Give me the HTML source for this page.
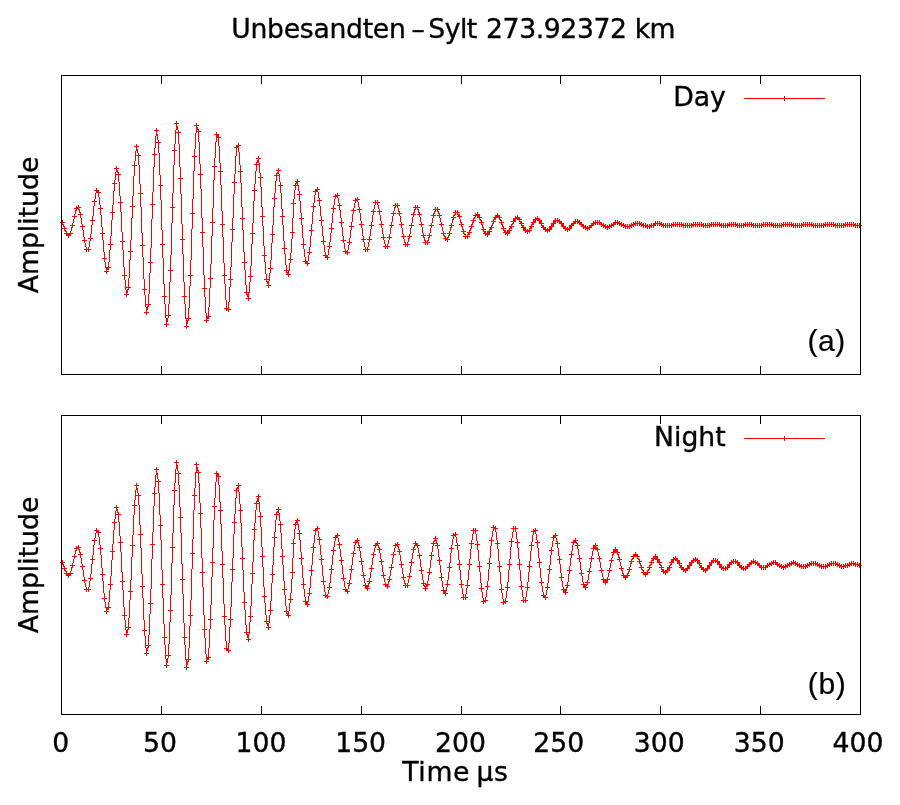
<!DOCTYPE html>
<html lang="en">
<head>
<meta charset="utf-8">
<title>Unbesandten-Sylt 273.92372 km</title>
<style>
html,body{margin:0;padding:0;background:#fff;}
body{width:900px;height:805px;overflow:hidden;}
svg{display:block;will-change:transform;}
text{font-family:'DejaVu Sans','Liberation Sans',sans-serif;font-size:26.67px;fill:#000;stroke:#000;stroke-width:0.35px;}
.ab{font-family:'Liberation Sans','DejaVu Sans',sans-serif;font-size:30px;stroke-width:0.2px;}
.crisp{shape-rendering:crispEdges;}
</style>
</head>
<body>
<svg width="900" height="805" viewBox="0 0 900 805">
<rect width="900" height="805" fill="#fff"/>
<g class="crisp" fill="#f00">
<rect x="744" y="98" width="81" height="1"/><rect x="784" y="96" width="1" height="5"/>
<rect x="744" y="438" width="81" height="1"/><rect x="784" y="436" width="1" height="5"/>
</g>
<path class="crisp" fill="none" stroke="#f00" stroke-width="1" d="M60.5 222v1M61.5 222v1M62.5 220v5M62.5 228v1M63.5 222v1M63.5 224v3M63.5 228v1M64.5 222v1M64.5 226v5M64.5 233v1M65.5 228v1M65.5 230v2M65.5 233v1M66.5 228v1M66.5 231v5M67.5 233v3M68.5 233v5M69.5 233v3M70.5 225v1M70.5 231v5M71.5 225v1M71.5 227v4M71.5 233v1M72.5 216v1M72.5 223v5M72.5 233v1M73.5 216v1M73.5 219v4M73.5 225v1M74.5 208v1M74.5 214v5M74.5 225v1M75.5 208v1M75.5 210v4M75.5 216v1M76.5 206v5M76.5 216v1M77.5 207v2M78.5 205v5M78.5 214v1M79.5 207v1M79.5 209v4M79.5 214v1M80.5 207v1M80.5 212v6M80.5 226v1M81.5 214v1M81.5 218v6M81.5 226v1M82.5 214v1M82.5 224v6M82.5 240v1M83.5 226v1M83.5 230v7M83.5 240v1M84.5 226v1M84.5 237v6M84.5 249v1M85.5 240v1M85.5 243v4M85.5 249v1M86.5 240v1M86.5 247v5M87.5 249v1M88.5 238v1M88.5 247v5M89.5 238v1M89.5 241v6M89.5 249v1M90.5 220v1M90.5 234v7M90.5 249v1M91.5 220v1M91.5 225v9M91.5 238v1M92.5 201v1M92.5 216v9M92.5 238v1M93.5 201v1M93.5 206v10M93.5 220v1M94.5 190v1M94.5 199v7M94.5 220v1M95.5 190v1M95.5 193v6M95.5 201v1M96.5 188v5M96.5 201v1M97.5 190v3M98.5 190v7M98.5 208v1M99.5 192v1M99.5 197v8M99.5 208v1M100.5 192v1M100.5 205v10M100.5 233v1M101.5 208v1M101.5 215v12M101.5 233v1M102.5 208v1M102.5 227v13M102.5 258v1M103.5 233v1M103.5 240v12M103.5 258v1M104.5 233v1M104.5 252v10M104.5 271v1M105.5 258v1M105.5 262v6M105.5 271v1M106.5 258v1M106.5 267v7M107.5 267v3M107.5 271v1M108.5 244v1M108.5 262v8M108.5 271v1M109.5 244v1M109.5 250v12M109.5 267v1M110.5 212v1M110.5 236v14M110.5 267v1M111.5 212v1M111.5 220v16M111.5 244v1M112.5 183v1M112.5 205v15M112.5 244v1M113.5 183v1M113.5 191v14M113.5 212v1M114.5 168v1M114.5 180v11M114.5 212v1M115.5 168v1M115.5 172v8M115.5 183v1M116.5 166v6M116.5 174v1M116.5 183v1M117.5 168v1M117.5 170v3M117.5 174v1M118.5 168v1M118.5 172v10M118.5 202v1M119.5 174v1M119.5 182v14M119.5 202v1M120.5 174v1M120.5 196v16M120.5 241v1M121.5 202v1M121.5 212v20M121.5 241v1M122.5 202v1M122.5 232v18M122.5 275v1M123.5 241v1M123.5 250v17M123.5 275v1M124.5 241v1M124.5 267v13M124.5 294v1M125.5 275v1M125.5 280v10M125.5 294v1M126.5 275v1M126.5 287v1M126.5 290v7M127.5 287v1M127.5 289v4M127.5 294v1M128.5 251v1M128.5 278v12M128.5 294v1M129.5 251v1M129.5 260v18M129.5 287v1M130.5 206v1M130.5 240v20M130.5 287v1M131.5 206v1M131.5 218v22M131.5 251v1M132.5 165v1M132.5 196v22M132.5 251v1M133.5 165v1M133.5 176v20M133.5 206v1M134.5 146v1M134.5 161v15M134.5 206v1M135.5 146v1M135.5 151v10M135.5 165v1M136.5 144v7M136.5 155v1M136.5 165v1M137.5 146v1M137.5 149v4M137.5 155v1M138.5 146v1M138.5 153v12M138.5 193v1M139.5 155v1M139.5 165v19M139.5 193v1M140.5 155v1M140.5 184v23M140.5 245v1M141.5 193v1M141.5 207v26M141.5 245v1M142.5 193v1M142.5 233v24M142.5 289v1M143.5 245v1M143.5 257v22M143.5 289v1M144.5 245v1M144.5 279v16M144.5 312v1M145.5 289v1M145.5 295v12M145.5 312v1M146.5 289v1M146.5 304v1M146.5 307v8M147.5 304v1M147.5 306v4M147.5 312v1M148.5 262v1M148.5 294v13M148.5 312v1M149.5 262v1M149.5 273v21M149.5 304v1M150.5 204v1M150.5 248v25M150.5 304v1M151.5 204v1M151.5 219v29M151.5 262v1M152.5 154v1M152.5 192v27M152.5 262v1M153.5 154v1M153.5 167v25M153.5 204v1M154.5 130v1M154.5 148v19M154.5 204v1M155.5 130v1M155.5 136v12M155.5 154v1M156.5 128v8M156.5 142v1M156.5 154v1M157.5 130v1M157.5 134v6M157.5 142v1M158.5 130v1M158.5 140v13M158.5 185v1M159.5 142v1M159.5 153v22M159.5 185v1M160.5 142v1M160.5 175v25M160.5 244v1M161.5 185v1M161.5 200v30M161.5 244v1M162.5 185v1M162.5 230v28M162.5 296v1M163.5 244v1M163.5 258v26M163.5 296v1M164.5 244v1M164.5 284v20M164.5 324v1M165.5 296v1M165.5 304v14M165.5 324v1M166.5 296v1M166.5 315v1M166.5 318v9M167.5 315v1M167.5 318v4M167.5 324v1M168.5 270v1M168.5 304v14M168.5 324v1M169.5 270v1M169.5 282v22M169.5 315v1M170.5 207v1M170.5 255v27M170.5 315v1M171.5 207v1M171.5 223v32M171.5 270v1M172.5 150v1M172.5 193v30M172.5 270v1M173.5 150v1M173.5 165v28M173.5 207v1M174.5 123v1M174.5 144v21M174.5 207v1M175.5 123v1M175.5 130v14M175.5 150v1M176.5 121v9M176.5 132v1M176.5 150v1M177.5 123v1M177.5 126v4M177.5 132v1M178.5 123v1M178.5 130v14M178.5 178v1M179.5 132v1M179.5 144v23M179.5 178v1M180.5 132v1M180.5 167v27M180.5 239v1M181.5 178v1M181.5 194v30M181.5 239v1M182.5 178v1M182.5 224v30M182.5 296v1M183.5 239v1M183.5 254v28M183.5 296v1M184.5 239v1M184.5 282v22M184.5 326v1M185.5 296v1M185.5 304v15M185.5 326v1M186.5 296v1M186.5 318v11M187.5 318v1M187.5 320v4M187.5 326v1M188.5 275v1M188.5 308v13M188.5 326v1M189.5 275v1M189.5 286v22M189.5 318v1M190.5 213v1M190.5 260v26M190.5 318v1M191.5 213v1M191.5 229v31M191.5 275v1M192.5 156v1M192.5 199v30M192.5 275v1M193.5 156v1M193.5 171v28M193.5 213v1M194.5 125v1M194.5 149v22M194.5 213v1M195.5 125v1M195.5 133v16M195.5 156v1M196.5 123v10M196.5 156v1M197.5 125v1M197.5 127v3M197.5 131v1M198.5 125v1M198.5 129v13M198.5 174v1M199.5 131v1M199.5 142v22M199.5 174v1M200.5 131v1M200.5 164v25M200.5 232v1M201.5 174v1M201.5 189v29M201.5 232v1M202.5 174v1M202.5 218v29M202.5 288v1M203.5 232v1M203.5 247v28M203.5 288v1M204.5 232v1M204.5 275v22M204.5 320v1M205.5 288v1M205.5 297v16M205.5 320v1M206.5 288v1M206.5 313v10M207.5 316v3M207.5 320v1M208.5 278v1M208.5 307v12M208.5 320v1M209.5 278v1M209.5 288v19M209.5 316v1M210.5 222v1M210.5 264v24M210.5 316v1M211.5 222v1M211.5 236v28M211.5 278v1M212.5 166v1M212.5 208v28M212.5 278v1M213.5 166v1M213.5 180v28M213.5 222v1M214.5 134v1M214.5 158v22M214.5 222v1M215.5 134v1M215.5 142v16M215.5 166v1M216.5 132v10M216.5 166v1M217.5 134v4M218.5 134v12M218.5 171v1M219.5 137v1M219.5 146v17M219.5 171v1M220.5 137v1M220.5 163v22M220.5 224v1M221.5 171v1M221.5 185v26M221.5 224v1M222.5 171v1M222.5 211v26M222.5 275v1M223.5 224v1M223.5 237v26M223.5 275v1M224.5 224v1M224.5 263v21M224.5 308v1M225.5 275v1M225.5 284v16M225.5 308v1M226.5 275v1M226.5 300v11M227.5 308v2M228.5 279v1M228.5 302v10M229.5 279v1M229.5 287v15M229.5 309v1M230.5 229v1M230.5 267v20M230.5 309v1M231.5 229v1M231.5 242v25M231.5 279v1M232.5 182v1M232.5 218v24M232.5 279v1M233.5 182v1M233.5 194v24M233.5 229v1M234.5 147v1M234.5 174v20M234.5 229v1M235.5 147v1M235.5 156v18M235.5 182v1M236.5 145v11M236.5 182v1M237.5 145v3M238.5 143v9M238.5 171v1M239.5 145v1M239.5 152v13M239.5 171v1M240.5 145v1M240.5 165v18M240.5 218v1M241.5 171v1M241.5 183v24M241.5 218v1M242.5 171v1M242.5 207v23M242.5 262v1M243.5 218v1M243.5 230v22M243.5 262v1M244.5 218v1M244.5 252v18M244.5 292v1M245.5 262v1M245.5 270v15M245.5 292v1M246.5 262v1M246.5 285v10M246.5 298v1M247.5 292v1M247.5 294v3M247.5 298v1M248.5 276v1M248.5 292v9M249.5 276v1M249.5 282v11M249.5 298v1M250.5 233v1M250.5 266v16M250.5 298v1M251.5 233v1M251.5 244v22M251.5 276v1M252.5 190v1M252.5 223v21M252.5 276v1M253.5 190v1M253.5 201v22M253.5 233v1M254.5 164v1M254.5 184v17M254.5 233v1M255.5 164v1M255.5 171v13M255.5 190v1M256.5 158v1M256.5 162v9M256.5 190v1M257.5 158v1M257.5 160v3M257.5 164v1M258.5 156v7M258.5 164v1M258.5 177v1M259.5 158v1M259.5 163v10M259.5 177v1M260.5 158v1M260.5 173v14M260.5 216v1M261.5 177v1M261.5 187v20M261.5 216v1M262.5 177v1M262.5 207v19M262.5 255v1M263.5 216v1M263.5 226v20M263.5 255v1M264.5 216v1M264.5 246v16M264.5 279v1M265.5 255v1M265.5 262v12M265.5 279v1M266.5 255v1M266.5 274v8M266.5 285v1M267.5 279v1M267.5 281v3M267.5 285v1M268.5 268v1M268.5 279v1M268.5 281v7M269.5 268v1M269.5 273v8M269.5 285v1M270.5 234v1M270.5 260v13M270.5 285v1M271.5 234v1M271.5 243v17M271.5 268v1M272.5 198v1M272.5 225v18M272.5 268v1M273.5 198v1M273.5 207v18M273.5 234v1M274.5 175v1M274.5 193v14M274.5 234v1M275.5 175v1M275.5 181v12M275.5 198v1M276.5 170v1M276.5 173v8M276.5 198v1M277.5 170v1M277.5 172v2M277.5 175v1M278.5 168v6M278.5 175v1M278.5 185v1M279.5 170v1M279.5 174v8M279.5 185v1M280.5 170v1M280.5 182v11M280.5 216v1M281.5 185v1M281.5 193v16M281.5 216v1M282.5 185v1M282.5 209v16M282.5 248v1M283.5 216v1M283.5 225v16M283.5 248v1M284.5 216v1M284.5 241v13M284.5 270v1M285.5 248v1M285.5 254v11M285.5 270v1M286.5 248v1M286.5 265v8M286.5 274v1M287.5 270v1M287.5 272v3M288.5 259v1M288.5 270v7M289.5 259v1M289.5 263v8M289.5 274v1M290.5 232v1M290.5 253v10M290.5 274v1M291.5 203v1M291.5 232v1M291.5 239v14M291.5 259v1M292.5 203v1M292.5 218v21M292.5 259v1M293.5 185v1M293.5 199v19M293.5 232v1M294.5 185v1M294.5 190v9M294.5 203v1M294.5 232v1M295.5 181v1M295.5 183v7M295.5 203v1M296.5 181v3M296.5 185v1M297.5 179v7M297.5 194v1M298.5 181v1M298.5 185v6M298.5 194v1M299.5 181v1M299.5 191v10M299.5 218v1M300.5 194v1M300.5 201v12M300.5 218v1M301.5 194v1M301.5 213v12M301.5 244v1M302.5 218v1M302.5 225v13M302.5 244v1M303.5 218v1M303.5 238v11M303.5 261v1M304.5 244v1M304.5 249v8M304.5 261v1M305.5 244v1M305.5 257v7M306.5 261v3M307.5 252v1M307.5 261v5M308.5 252v1M308.5 255v6M308.5 263v1M309.5 230v1M309.5 247v8M309.5 263v1M310.5 230v1M310.5 236v11M310.5 252v1M311.5 206v1M311.5 224v12M311.5 252v1M312.5 206v1M312.5 212v12M312.5 230v1M313.5 191v1M313.5 203v9M313.5 230v1M314.5 191v1M314.5 195v8M314.5 206v1M315.5 189v6M315.5 206v1M316.5 189v3M317.5 187v5M317.5 200v1M318.5 189v1M318.5 192v6M318.5 200v1M319.5 189v1M319.5 198v8M319.5 220v1M320.5 200v1M320.5 206v10M320.5 220v1M321.5 200v1M321.5 216v10M321.5 241v1M322.5 220v1M322.5 226v10M322.5 241v1M323.5 220v1M323.5 236v9M323.5 255v1M324.5 241v1M324.5 245v7M324.5 255v1M325.5 241v1M325.5 252v6M326.5 255v3M327.5 246v1M327.5 255v5M328.5 246v1M328.5 249v6M328.5 257v1M329.5 228v1M329.5 242v7M329.5 257v1M330.5 228v1M330.5 233v9M330.5 246v1M331.5 208v1M331.5 223v10M331.5 246v1M332.5 208v1M332.5 213v10M332.5 228v1M333.5 196v1M333.5 205v8M333.5 228v1M334.5 196v1M334.5 199v6M334.5 208v1M335.5 194v5M335.5 208v1M336.5 195v2M337.5 193v5M337.5 205v1M338.5 195v1M338.5 198v5M338.5 205v1M339.5 195v1M339.5 203v7M339.5 222v1M340.5 205v1M340.5 210v8M340.5 222v1M341.5 205v1M341.5 218v9M341.5 240v1M342.5 222v1M342.5 227v9M342.5 240v1M343.5 222v1M343.5 236v7M343.5 251v1M344.5 240v1M344.5 243v6M344.5 251v1M345.5 240v1M345.5 249v5M346.5 251v2M347.5 242v1M347.5 250v5M348.5 242v1M348.5 245v5M348.5 252v1M349.5 226v1M349.5 238v7M349.5 252v1M350.5 226v1M350.5 230v8M350.5 242v1M351.5 210v1M351.5 222v8M351.5 242v1M352.5 210v1M352.5 214v8M352.5 226v1M353.5 200v1M353.5 208v6M353.5 226v1M354.5 200v1M354.5 203v5M354.5 210v1M355.5 198v5M355.5 210v1M356.5 199v2M357.5 197v5M357.5 209v1M358.5 199v1M358.5 202v5M358.5 209v1M359.5 199v1M359.5 207v6M359.5 224v1M360.5 209v1M360.5 213v8M360.5 224v1M361.5 209v1M361.5 221v7M361.5 239v1M362.5 224v1M362.5 228v8M362.5 239v1M363.5 224v1M363.5 236v6M363.5 249v1M364.5 239v1M364.5 242v5M364.5 249v1M365.5 239v1M365.5 247v5M366.5 249v1M367.5 239v1M367.5 247v5M368.5 239v1M368.5 242v5M368.5 249v1M369.5 225v1M369.5 236v6M369.5 249v1M370.5 225v1M370.5 229v7M370.5 239v1M371.5 211v1M371.5 222v7M371.5 239v1M372.5 211v1M372.5 215v7M372.5 225v1M373.5 202v1M373.5 209v6M373.5 225v1M374.5 202v1M374.5 205v4M374.5 211v1M375.5 200v5M375.5 211v1M376.5 202v1M377.5 200v5M377.5 211v1M378.5 202v1M378.5 205v4M378.5 211v1M379.5 202v1M379.5 209v6M379.5 224v1M380.5 211v1M380.5 215v6M380.5 224v1M381.5 211v1M381.5 221v7M381.5 237v1M382.5 224v1M382.5 228v6M382.5 237v1M383.5 224v1M383.5 234v6M383.5 246v1M384.5 237v1M384.5 240v4M384.5 246v1M385.5 237v1M385.5 244v5M386.5 246v1M387.5 237v1M387.5 244v5M388.5 237v1M388.5 240v4M388.5 246v1M389.5 225v1M389.5 234v6M389.5 246v1M390.5 225v1M390.5 228v6M390.5 237v1M391.5 213v1M391.5 222v6M391.5 237v1M392.5 213v1M392.5 216v6M392.5 225v1M393.5 205v1M393.5 211v5M393.5 225v1M394.5 205v1M394.5 207v4M394.5 213v1M395.5 203v5M395.5 213v1M396.5 205v1M397.5 203v5M397.5 213v1M398.5 205v1M398.5 208v4M398.5 213v1M399.5 205v1M399.5 211v5M399.5 224v1M400.5 213v1M400.5 216v6M400.5 224v1M401.5 213v1M401.5 222v6M401.5 236v1M402.5 224v1M402.5 228v6M402.5 236v1M403.5 224v1M403.5 234v5M403.5 244v1M404.5 236v1M404.5 239v4M404.5 244v1M405.5 236v1M405.5 242v5M406.5 244v1M407.5 236v1M407.5 242v5M408.5 236v1M408.5 238v4M408.5 244v1M409.5 225v1M409.5 234v5M409.5 244v1M410.5 225v1M410.5 228v6M410.5 236v1M411.5 214v1M411.5 223v5M411.5 236v1M412.5 214v1M412.5 217v6M412.5 225v1M413.5 207v1M413.5 212v5M413.5 225v1M414.5 207v1M414.5 209v4M414.5 214v1M415.5 205v5M415.5 214v1M416.5 207v1M417.5 205v5M417.5 214v1M418.5 207v1M418.5 209v4M418.5 214v1M419.5 207v1M419.5 212v5M419.5 224v1M420.5 214v1M420.5 217v5M420.5 224v1M421.5 214v1M421.5 222v5M421.5 235v1M422.5 224v1M422.5 227v6M422.5 235v1M423.5 224v1M423.5 233v5M423.5 242v1M424.5 235v1M424.5 237v4M424.5 242v1M425.5 235v1M425.5 240v5M426.5 242v1M427.5 235v1M427.5 240v5M428.5 235v1M428.5 237v4M428.5 242v1M429.5 225v1M429.5 233v5M429.5 242v1M430.5 225v1M430.5 228v5M430.5 235v1M431.5 215v1M431.5 223v5M431.5 235v1M432.5 215v1M432.5 218v5M432.5 225v1M433.5 209v1M433.5 213v5M433.5 225v1M434.5 209v1M434.5 211v3M434.5 215v1M435.5 207v5M435.5 215v1M436.5 209v1M437.5 207v5M437.5 215v1M438.5 209v1M438.5 211v3M438.5 215v1M439.5 209v1M439.5 213v5M439.5 224v1M440.5 215v1M440.5 218v4M440.5 224v1M441.5 215v1M441.5 222v5M441.5 233v1M442.5 224v1M442.5 227v4M442.5 233v1M443.5 224v1M443.5 231v5M443.5 238v1M444.5 233v1M444.5 235v2M444.5 238v1M445.5 233v1M445.5 236v5M446.5 238v2M447.5 233v1M447.5 237v5M448.5 233v1M448.5 235v3M448.5 239v1M449.5 225v1M449.5 231v5M449.5 239v1M450.5 225v1M450.5 227v4M450.5 233v1M451.5 217v1M451.5 223v5M451.5 233v1M452.5 217v1M452.5 219v4M452.5 225v1M453.5 212v1M453.5 215v5M453.5 225v1M454.5 212v1M454.5 214v2M454.5 217v1M455.5 210v5M455.5 217v1M456.5 212v1M457.5 210v5M457.5 216v1M458.5 212v1M458.5 214v3M459.5 212v1M459.5 214v5M459.5 224v1M460.5 216v1M460.5 219v4M460.5 224v1M461.5 216v1M461.5 222v5M461.5 231v1M462.5 224v1M462.5 226v4M462.5 231v1M463.5 224v1M463.5 229v5M463.5 236v1M464.5 231v1M464.5 233v2M464.5 236v1M465.5 231v1M465.5 234v5M466.5 236v1M467.5 232v1M467.5 234v5M468.5 232v3M468.5 236v1M469.5 226v1M469.5 230v5M469.5 236v1M470.5 226v1M470.5 228v3M470.5 232v1M471.5 220v1M471.5 224v5M471.5 232v1M472.5 220v1M472.5 222v3M472.5 226v1M473.5 215v1M473.5 218v5M473.5 226v1M474.5 215v1M474.5 217v2M474.5 220v1M475.5 213v5M475.5 220v1M476.5 214v2M477.5 212v6M478.5 214v4M479.5 214v6M479.5 222v1M480.5 217v1M480.5 219v2M480.5 222v1M481.5 217v1M481.5 220v5M481.5 229v1M482.5 222v1M482.5 224v4M482.5 229v1M483.5 222v1M483.5 227v5M483.5 233v1M484.5 229v1M484.5 231v3M485.5 229v1M485.5 231v5M486.5 233v2M487.5 231v6M488.5 231v4M489.5 227v1M489.5 229v6M490.5 227v3M490.5 231v1M491.5 221v1M491.5 225v5M491.5 231v1M492.5 221v1M492.5 223v3M492.5 227v1M493.5 217v1M493.5 219v5M493.5 227v1M494.5 217v3M494.5 221v1M495.5 215v5M495.5 221v1M496.5 215v3M497.5 213v5M498.5 215v3M499.5 215v5M499.5 222v1M500.5 217v1M500.5 219v2M500.5 222v1M501.5 217v1M501.5 220v5M501.5 228v1M502.5 222v1M502.5 224v3M502.5 228v1M503.5 222v1M503.5 226v5M503.5 232v1M504.5 228v1M504.5 230v3M505.5 228v1M505.5 230v5M506.5 232v2M507.5 230v6M508.5 230v4M509.5 226v1M509.5 228v6M510.5 226v3M510.5 230v1M511.5 221v1M511.5 224v5M511.5 230v1M512.5 221v1M512.5 223v2M512.5 226v1M513.5 218v6M513.5 226v1M514.5 218v4M515.5 216v6M516.5 217v2M517.5 215v5M518.5 217v3M519.5 217v5M519.5 223v1M520.5 219v1M520.5 221v3M521.5 219v1M521.5 221v5M521.5 227v1M522.5 223v1M522.5 225v3M523.5 223v1M523.5 225v6M524.5 227v4M525.5 227v6M526.5 230v2M527.5 229v5M528.5 230v2M529.5 226v1M529.5 228v5M530.5 226v3M530.5 230v1M531.5 222v1M531.5 224v5M531.5 230v1M532.5 222v3M532.5 226v1M533.5 219v6M533.5 226v1M534.5 219v4M535.5 217v6M536.5 218v2M537.5 216v5M538.5 218v3M539.5 218v6M540.5 220v4M541.5 220v6M541.5 227v1M542.5 223v1M542.5 225v3M543.5 223v1M543.5 225v5M544.5 227v3M545.5 227v5M546.5 229v2M547.5 228v5M548.5 229v2M549.5 226v6M550.5 226v4M551.5 223v7M552.5 223v4M553.5 220v7M554.5 220v4M555.5 218v6M556.5 220v1M557.5 218v5M558.5 220v2M559.5 219v5M560.5 221v3M561.5 221v6M562.5 223v4M563.5 223v6M564.5 226v3M565.5 226v5M566.5 228v2M567.5 227v5M568.5 228v2M569.5 225v6M570.5 225v4M571.5 223v6M572.5 223v3M573.5 221v5M574.5 221v3M575.5 219v5M576.5 221v1M577.5 219v5M578.5 221v2M579.5 220v5M580.5 222v3M581.5 222v5M582.5 224v3M583.5 224v5M584.5 226v2M585.5 225v5M586.5 227v2M587.5 226v5M588.5 227v2M589.5 225v5M590.5 225v3M591.5 223v5M592.5 223v3M593.5 221v5M594.5 222v2M595.5 220v5M596.5 222v1M597.5 220v5M598.5 222v1M599.5 220v5M600.5 222v3M601.5 222v5M602.5 224v2M603.5 223v5M604.5 225v2M605.5 224v5M606.5 226v2M607.5 225v5M608.5 226v2M609.5 224v5M610.5 225v2M611.5 223v5M612.5 224v2M613.5 222v5M614.5 222v3M615.5 220v5M616.5 222v1M617.5 220v5M618.5 222v2M619.5 221v5M620.5 223v2M621.5 222v5M622.5 224v2M623.5 223v5M624.5 225v2M625.5 224v5M626.5 226v1M627.5 224v5M628.5 226v1M629.5 224v5M630.5 225v2M631.5 223v5M632.5 224v2M633.5 222v5M634.5 223v2M635.5 221v5M636.5 223v1M637.5 221v5M638.5 223v1M639.5 221v5M640.5 223v2M641.5 222v5M642.5 224v2M643.5 223v5M644.5 225v1M645.5 223v5M646.5 225v2M647.5 224v5M648.5 226v1M649.5 224v5M650.5 225v2M651.5 223v5M652.5 225v1M653.5 223v5M654.5 223v3M655.5 221v5M656.5 223v1M657.5 221v5M658.5 223v1M659.5 221v5M660.5 223v2M661.5 222v5M662.5 224v2M663.5 223v5M664.5 225v1M665.5 223v5M666.5 225v1M667.5 223v5M668.5 225v1M669.5 223v5M670.5 225v1M671.5 223v5M672.5 224v2M673.5 222v5M674.5 224v1M675.5 222v5M676.5 224v1M677.5 222v5M678.5 224v1M679.5 222v5M680.5 224v1M681.5 222v5M682.5 224v2M683.5 223v5M684.5 225v1M685.5 223v5M686.5 225v1M687.5 223v5M688.5 225v1M689.5 223v5M690.5 225v1M691.5 223v5M692.5 224v2M693.5 222v5M694.5 224v1M695.5 222v5M696.5 224v1M697.5 222v5M698.5 224v1M699.5 222v5M700.5 224v1M701.5 222v5M702.5 224v2M703.5 223v5M704.5 225v1M705.5 223v5M706.5 225v1M707.5 223v5M708.5 225v1M709.5 223v5M710.5 224v2M711.5 222v5M712.5 224v1M713.5 222v5M714.5 224v1M715.5 222v5M716.5 224v1M717.5 222v5M718.5 224v1M719.5 222v5M720.5 224v2M721.5 223v5M722.5 225v1M723.5 223v5M724.5 225v1M725.5 223v5M726.5 225v1M727.5 223v5M728.5 224v2M729.5 222v5M730.5 224v1M731.5 222v5M732.5 224v1M733.5 222v5M734.5 224v1M735.5 222v5M736.5 224v2M737.5 223v5M738.5 225v1M739.5 223v5M740.5 225v1M741.5 223v5M742.5 225v1M743.5 223v5M744.5 224v2M745.5 222v5M746.5 224v1M747.5 222v5M748.5 224v1M749.5 222v5M750.5 224v1M751.5 222v5M752.5 224v2M753.5 223v5M754.5 225v1M755.5 223v5M756.5 225v1M757.5 223v5M758.5 225v1M759.5 223v5M760.5 225v1M761.5 223v5M762.5 224v2M763.5 222v5M764.5 224v1M765.5 222v5M766.5 224v1M767.5 222v5M768.5 224v1M769.5 222v5M770.5 224v1M771.5 222v5M772.5 224v2M773.5 223v5M774.5 225v1M775.5 223v5M776.5 225v1M777.5 223v5M778.5 225v1M779.5 223v5M780.5 225v1M781.5 223v5M782.5 224v2M783.5 222v5M784.5 224v1M785.5 222v5M786.5 224v1M787.5 222v5M788.5 224v1M789.5 222v5M790.5 224v1M791.5 222v5M792.5 224v2M793.5 223v5M794.5 225v1M795.5 223v5M796.5 225v1M797.5 223v5M798.5 225v1M799.5 223v5M800.5 225v1M801.5 223v5M802.5 224v2M803.5 222v5M804.5 224v1M805.5 222v5M806.5 224v1M807.5 222v5M808.5 224v1M809.5 222v5M810.5 224v1M811.5 222v5M812.5 224v2M813.5 223v5M814.5 225v1M815.5 223v5M816.5 225v1M817.5 223v5M818.5 225v1M819.5 223v5M820.5 225v1M821.5 223v5M822.5 225v1M823.5 223v5M824.5 224v2M825.5 222v5M826.5 224v1M827.5 222v5M828.5 224v1M829.5 222v5M830.5 224v1M831.5 222v5M832.5 224v1M833.5 222v5M834.5 224v2M835.5 223v5M836.5 225v1M837.5 223v5M838.5 225v1M839.5 223v5M840.5 225v1M841.5 223v5M842.5 225v1M843.5 223v5M844.5 224v2M845.5 222v5M846.5 224v1M847.5 222v5M848.5 224v1M849.5 222v5M850.5 224v1M851.5 222v5M852.5 224v1M853.5 222v5M854.5 224v2M855.5 223v5M856.5 225v1M857.5 223v5M858.5 225v1M859.5 223v5M860.5 225v1M861.5 225v1"/>
<path class="crisp" fill="none" stroke="#f00" stroke-width="1" d="M60.5 562v1M61.5 562v1M62.5 560v5M62.5 568v1M63.5 562v1M63.5 564v3M63.5 568v1M64.5 562v1M64.5 566v5M64.5 573v1M65.5 568v1M65.5 570v2M65.5 573v1M66.5 568v1M66.5 571v5M67.5 573v3M68.5 573v5M69.5 573v3M70.5 565v1M70.5 571v5M71.5 565v1M71.5 567v4M71.5 573v1M72.5 556v1M72.5 563v5M72.5 573v1M73.5 556v1M73.5 559v4M73.5 565v1M74.5 548v1M74.5 554v5M74.5 565v1M75.5 548v1M75.5 550v4M75.5 556v1M76.5 546v5M76.5 556v1M77.5 547v2M78.5 545v5M78.5 554v1M79.5 547v1M79.5 549v4M79.5 554v1M80.5 547v1M80.5 552v6M80.5 566v1M81.5 554v1M81.5 558v6M81.5 566v1M82.5 554v1M82.5 564v6M82.5 580v1M83.5 566v1M83.5 570v7M83.5 580v1M84.5 566v1M84.5 577v6M84.5 589v1M85.5 580v1M85.5 583v4M85.5 589v1M86.5 580v1M86.5 587v5M87.5 589v1M88.5 578v1M88.5 587v5M89.5 578v1M89.5 581v6M89.5 589v1M90.5 559v1M90.5 574v7M90.5 589v1M91.5 559v1M91.5 564v10M91.5 578v1M92.5 540v1M92.5 555v9M92.5 578v1M93.5 540v1M93.5 545v10M93.5 559v1M94.5 530v1M94.5 538v7M94.5 559v1M95.5 530v1M95.5 533v5M95.5 540v1M96.5 528v5M96.5 540v1M97.5 530v3M98.5 530v7M98.5 548v1M99.5 532v1M99.5 537v8M99.5 548v1M100.5 532v1M100.5 545v10M100.5 574v1M101.5 548v1M101.5 555v13M101.5 574v1M102.5 548v1M102.5 568v13M102.5 598v1M103.5 574v1M103.5 581v12M103.5 598v1M104.5 574v1M104.5 593v9M104.5 611v1M105.5 598v1M105.5 602v6M105.5 611v1M106.5 598v1M106.5 607v7M107.5 607v3M107.5 611v1M108.5 584v1M108.5 602v8M108.5 611v1M109.5 584v1M109.5 590v12M109.5 607v1M110.5 551v1M110.5 576v14M110.5 607v1M111.5 551v1M111.5 560v16M111.5 584v1M112.5 522v1M112.5 544v16M112.5 584v1M113.5 522v1M113.5 530v14M113.5 551v1M114.5 507v1M114.5 519v11M114.5 551v1M115.5 507v1M115.5 511v8M115.5 522v1M116.5 505v6M116.5 514v1M116.5 522v1M117.5 507v1M117.5 509v4M117.5 514v1M118.5 507v1M118.5 512v10M118.5 542v1M119.5 514v1M119.5 522v14M119.5 542v1M120.5 514v1M120.5 536v16M120.5 581v1M121.5 542v1M121.5 552v20M121.5 581v1M122.5 542v1M122.5 572v18M122.5 615v1M123.5 581v1M123.5 590v17M123.5 615v1M124.5 581v1M124.5 607v13M124.5 634v1M125.5 615v1M125.5 620v10M125.5 634v1M126.5 615v1M126.5 627v1M126.5 630v7M127.5 627v1M127.5 629v4M127.5 634v1M128.5 591v1M128.5 618v12M128.5 634v1M129.5 591v1M129.5 600v18M129.5 627v1M130.5 545v1M130.5 580v20M130.5 627v1M131.5 545v1M131.5 557v23M131.5 591v1M132.5 505v1M132.5 535v22M132.5 591v1M133.5 505v1M133.5 515v20M133.5 545v1M134.5 485v1M134.5 500v15M134.5 545v1M135.5 485v1M135.5 490v10M135.5 505v1M136.5 483v7M136.5 495v1M136.5 505v1M137.5 485v1M137.5 488v5M137.5 495v1M138.5 485v1M138.5 493v12M138.5 534v1M139.5 495v1M139.5 505v20M139.5 534v1M140.5 495v1M140.5 525v23M140.5 586v1M141.5 534v1M141.5 548v26M141.5 586v1M142.5 534v1M142.5 574v24M142.5 630v1M143.5 586v1M143.5 598v22M143.5 630v1M144.5 586v1M144.5 620v16M144.5 653v1M145.5 630v1M145.5 636v12M145.5 653v1M146.5 630v1M146.5 645v1M146.5 648v8M147.5 645v1M147.5 647v4M147.5 653v1M148.5 603v1M148.5 635v13M148.5 653v1M149.5 603v1M149.5 614v21M149.5 645v1M150.5 544v1M150.5 589v25M150.5 645v1M151.5 544v1M151.5 559v30M151.5 603v1M152.5 493v1M152.5 532v27M152.5 603v1M153.5 493v1M153.5 506v26M153.5 544v1M154.5 469v1M154.5 487v19M154.5 544v1M155.5 469v1M155.5 475v12M155.5 493v1M156.5 467v8M156.5 481v1M156.5 493v1M157.5 469v1M157.5 473v6M157.5 481v1M158.5 469v1M158.5 479v14M158.5 525v1M159.5 481v1M159.5 493v22M159.5 525v1M160.5 481v1M160.5 515v25M160.5 584v1M161.5 525v1M161.5 540v30M161.5 584v1M162.5 525v1M162.5 570v28M162.5 637v1M163.5 584v1M163.5 598v26M163.5 637v1M164.5 584v1M164.5 624v21M164.5 665v1M165.5 637v1M165.5 645v14M165.5 665v1M166.5 637v1M166.5 655v1M166.5 659v9M167.5 655v1M167.5 658v5M167.5 665v1M168.5 610v1M168.5 644v14M168.5 665v1M169.5 610v1M169.5 622v22M169.5 655v1M170.5 547v1M170.5 595v27M170.5 655v1M171.5 547v1M171.5 563v32M171.5 610v1M172.5 490v1M172.5 533v30M172.5 610v1M173.5 490v1M173.5 505v28M173.5 547v1M174.5 462v1M174.5 483v22M174.5 547v1M175.5 462v1M175.5 469v14M175.5 490v1M176.5 460v9M176.5 473v1M176.5 490v1M177.5 462v1M177.5 465v6M177.5 473v1M178.5 462v1M178.5 471v14M178.5 517v1M179.5 473v1M179.5 485v22M179.5 517v1M180.5 473v1M180.5 507v26M180.5 579v1M181.5 517v1M181.5 533v31M181.5 579v1M182.5 517v1M182.5 564v30M182.5 637v1M183.5 579v1M183.5 594v29M183.5 637v1M184.5 579v1M184.5 623v22M184.5 667v1M185.5 637v1M185.5 645v15M185.5 667v1M186.5 637v1M186.5 659v11M187.5 659v1M187.5 661v4M187.5 667v1M188.5 615v1M188.5 648v14M188.5 667v1M189.5 615v1M189.5 626v22M189.5 659v1M190.5 553v1M190.5 600v26M190.5 659v1M191.5 553v1M191.5 569v31M191.5 615v1M192.5 495v1M192.5 539v30M192.5 615v1M193.5 495v1M193.5 510v29M193.5 553v1M194.5 464v1M194.5 488v22M194.5 553v1M195.5 464v1M195.5 472v16M195.5 495v1M196.5 462v11M196.5 495v1M197.5 464v1M197.5 467v4M197.5 472v1M198.5 464v1M198.5 470v13M198.5 513v1M199.5 472v1M199.5 483v20M199.5 513v1M200.5 472v1M200.5 503v25M200.5 572v1M201.5 513v1M201.5 528v30M201.5 572v1M202.5 513v1M202.5 558v29M202.5 629v1M203.5 572v1M203.5 587v28M203.5 629v1M204.5 572v1M204.5 615v23M204.5 661v1M205.5 629v1M205.5 638v16M205.5 661v1M206.5 629v1M206.5 654v10M207.5 657v3M207.5 661v1M208.5 619v1M208.5 648v12M208.5 661v1M209.5 619v1M209.5 629v19M209.5 657v1M210.5 562v1M210.5 605v24M210.5 657v1M211.5 562v1M211.5 577v28M211.5 619v1M212.5 506v1M212.5 548v29M212.5 619v1M213.5 506v1M213.5 520v28M213.5 562v1M214.5 473v1M214.5 498v22M214.5 562v1M215.5 473v1M215.5 482v16M215.5 506v1M216.5 471v11M216.5 506v1M217.5 473v4M218.5 473v12M218.5 510v1M219.5 476v1M219.5 485v17M219.5 510v1M220.5 476v1M220.5 502v22M220.5 564v1M221.5 510v1M221.5 524v27M221.5 564v1M222.5 510v1M222.5 551v27M222.5 616v1M223.5 564v1M223.5 578v26M223.5 616v1M224.5 564v1M224.5 604v21M224.5 648v1M225.5 616v1M225.5 625v16M225.5 648v1M226.5 616v1M226.5 641v10M227.5 648v3M228.5 619v1M228.5 643v10M229.5 619v1M229.5 627v16M229.5 650v1M230.5 569v1M230.5 607v20M230.5 650v1M231.5 569v1M231.5 582v25M231.5 619v1M232.5 522v1M232.5 558v24M232.5 619v1M233.5 522v1M233.5 534v24M233.5 569v1M234.5 490v1M234.5 514v20M234.5 569v1M235.5 490v1M235.5 498v16M235.5 522v1M236.5 485v1M236.5 488v10M236.5 522v1M237.5 485v1M237.5 487v2M237.5 490v1M238.5 483v9M238.5 510v1M239.5 485v1M239.5 492v12M239.5 510v1M240.5 485v1M240.5 504v19M240.5 558v1M241.5 510v1M241.5 523v24M241.5 558v1M242.5 510v1M242.5 547v23M242.5 602v1M243.5 558v1M243.5 570v22M243.5 602v1M244.5 558v1M244.5 592v18M244.5 632v1M245.5 602v1M245.5 610v15M245.5 632v1M246.5 602v1M246.5 625v10M246.5 639v1M247.5 632v1M247.5 634v4M247.5 639v1M248.5 616v1M248.5 632v1M248.5 634v8M249.5 616v1M249.5 622v12M249.5 639v1M250.5 573v1M250.5 606v16M250.5 639v1M251.5 573v1M251.5 584v22M251.5 616v1M252.5 529v1M252.5 562v22M252.5 616v1M253.5 529v1M253.5 540v22M253.5 573v1M254.5 503v1M254.5 523v17M254.5 573v1M255.5 503v1M255.5 510v13M255.5 529v1M256.5 496v1M256.5 501v9M256.5 529v1M257.5 496v1M257.5 498v4M257.5 503v1M258.5 494v8M258.5 503v1M258.5 516v1M259.5 496v1M259.5 502v10M259.5 516v1M260.5 496v1M260.5 512v15M260.5 556v1M261.5 516v1M261.5 527v20M261.5 556v1M262.5 516v1M262.5 547v20M262.5 596v1M263.5 556v1M263.5 567v20M263.5 596v1M264.5 556v1M264.5 587v16M264.5 621v1M265.5 596v1M265.5 603v12M265.5 621v1M266.5 596v1M266.5 615v9M266.5 627v1M267.5 621v1M267.5 623v3M267.5 627v1M268.5 610v1M268.5 621v1M268.5 623v7M269.5 610v1M269.5 615v8M269.5 627v1M270.5 574v1M270.5 601v14M270.5 627v1M271.5 574v1M271.5 583v18M271.5 610v1M272.5 537v1M272.5 565v18M272.5 610v1M273.5 537v1M273.5 547v18M273.5 574v1M274.5 514v1M274.5 532v15M274.5 574v1M275.5 514v1M275.5 520v12M275.5 537v1M276.5 509v1M276.5 512v8M276.5 537v1M277.5 509v1M277.5 511v2M277.5 514v1M278.5 507v6M278.5 514v1M278.5 524v1M279.5 509v1M279.5 513v8M279.5 524v1M280.5 509v1M280.5 521v12M280.5 556v1M281.5 524v1M281.5 533v16M281.5 556v1M282.5 524v1M282.5 549v16M282.5 589v1M283.5 556v1M283.5 565v16M283.5 589v1M284.5 556v1M284.5 581v14M284.5 611v1M285.5 589v1M285.5 595v11M285.5 611v1M286.5 589v1M286.5 606v8M286.5 615v1M287.5 611v1M287.5 613v3M288.5 599v1M288.5 611v7M289.5 599v1M289.5 603v8M289.5 615v1M290.5 572v1M290.5 593v10M290.5 615v1M291.5 543v1M291.5 572v1M291.5 579v14M291.5 599v1M292.5 543v1M292.5 558v21M292.5 599v1M293.5 524v1M293.5 539v19M293.5 572v1M294.5 524v1M294.5 529v10M294.5 543v1M294.5 572v1M295.5 520v1M295.5 522v7M295.5 543v1M296.5 520v3M296.5 524v1M297.5 518v7M297.5 533v1M298.5 520v1M298.5 524v6M298.5 533v1M299.5 520v1M299.5 530v10M299.5 558v1M300.5 533v1M300.5 540v12M300.5 558v1M301.5 533v1M301.5 552v13M301.5 584v1M302.5 558v1M302.5 565v13M302.5 584v1M303.5 558v1M303.5 578v11M303.5 601v1M304.5 584v1M304.5 589v8M304.5 601v1M305.5 584v1M305.5 597v8M306.5 601v4M307.5 593v1M307.5 601v6M308.5 593v1M308.5 596v6M308.5 604v1M309.5 570v1M309.5 588v8M309.5 604v1M310.5 570v1M310.5 576v12M310.5 593v1M311.5 547v1M311.5 565v11M311.5 593v1M312.5 547v1M312.5 553v12M312.5 570v1M313.5 530v1M313.5 543v10M313.5 570v1M314.5 530v1M314.5 535v8M314.5 547v1M315.5 528v7M315.5 547v1M316.5 528v3M317.5 526v5M317.5 539v1M318.5 528v1M318.5 531v6M318.5 539v1M319.5 528v1M319.5 537v8M319.5 559v1M320.5 539v1M320.5 545v10M320.5 559v1M321.5 539v1M321.5 555v10M321.5 581v1M322.5 559v1M322.5 565v11M322.5 581v1M323.5 559v1M323.5 576v9M323.5 595v1M324.5 581v1M324.5 585v7M324.5 595v1M325.5 581v1M325.5 592v6M326.5 595v2M327.5 587v1M327.5 594v5M328.5 587v1M328.5 590v4M328.5 596v1M329.5 569v1M329.5 583v7M329.5 596v1M330.5 569v1M330.5 574v9M330.5 587v1M331.5 550v1M331.5 565v9M331.5 587v1M332.5 550v1M332.5 555v10M332.5 569v1M333.5 537v1M333.5 547v8M333.5 569v1M334.5 537v1M334.5 541v6M334.5 550v1M335.5 535v6M335.5 550v1M336.5 535v3M337.5 533v5M337.5 544v1M338.5 535v1M338.5 538v4M338.5 544v1M339.5 535v1M339.5 542v7M339.5 560v1M340.5 544v1M340.5 549v8M340.5 560v1M341.5 544v1M341.5 557v8M341.5 578v1M342.5 560v1M342.5 565v9M342.5 578v1M343.5 560v1M343.5 574v7M343.5 589v1M344.5 578v1M344.5 581v6M344.5 589v1M345.5 578v1M345.5 587v5M346.5 589v3M347.5 583v1M347.5 589v5M348.5 583v1M348.5 585v4M348.5 591v1M349.5 569v1M349.5 580v6M349.5 591v1M350.5 569v1M350.5 573v7M350.5 583v1M351.5 553v1M351.5 565v8M351.5 583v1M352.5 553v1M352.5 557v8M352.5 569v1M353.5 542v1M353.5 551v6M353.5 569v1M354.5 542v1M354.5 545v6M354.5 553v1M355.5 540v5M355.5 553v1M356.5 540v3M357.5 538v5M357.5 547v1M358.5 540v1M358.5 542v4M358.5 547v1M359.5 540v1M359.5 545v6M359.5 561v1M360.5 547v1M360.5 551v7M360.5 561v1M361.5 547v1M361.5 558v7M361.5 575v1M362.5 561v1M362.5 565v7M362.5 575v1M363.5 561v1M363.5 572v6M363.5 585v1M364.5 575v1M364.5 578v5M364.5 585v1M365.5 575v1M365.5 583v6M366.5 585v4M367.5 581v1M367.5 585v6M368.5 581v1M368.5 583v4M368.5 588v1M369.5 568v1M369.5 578v6M369.5 588v1M370.5 568v1M370.5 572v6M370.5 581v1M371.5 554v1M371.5 565v7M371.5 581v1M372.5 554v1M372.5 558v7M372.5 568v1M373.5 545v1M373.5 552v6M373.5 568v1M374.5 545v1M374.5 548v4M374.5 554v1M375.5 543v5M375.5 554v1M376.5 543v3M377.5 541v5M377.5 549v1M378.5 543v1M378.5 545v3M378.5 549v1M379.5 543v1M379.5 547v6M379.5 561v1M380.5 549v1M380.5 553v6M380.5 561v1M381.5 549v1M381.5 559v6M381.5 575v1M382.5 561v1M382.5 565v7M382.5 575v1M383.5 561v1M383.5 572v6M383.5 584v1M384.5 575v1M384.5 578v4M384.5 584v1M385.5 575v1M385.5 582v5M386.5 584v3M387.5 579v1M387.5 584v5M388.5 579v1M388.5 581v4M388.5 586v1M389.5 567v1M389.5 576v6M389.5 586v1M390.5 567v1M390.5 570v6M390.5 579v1M391.5 554v1M391.5 564v6M391.5 579v1M392.5 554v1M392.5 558v6M392.5 567v1M393.5 545v1M393.5 552v6M393.5 567v1M394.5 545v1M394.5 548v4M394.5 554v1M395.5 543v5M395.5 554v1M396.5 544v2M397.5 542v5M397.5 551v1M398.5 544v1M398.5 546v4M398.5 551v1M399.5 544v1M399.5 549v6M399.5 564v1M400.5 551v1M400.5 555v6M400.5 564v1M401.5 551v1M401.5 561v7M401.5 577v1M402.5 564v1M402.5 568v6M402.5 577v1M403.5 564v1M403.5 574v6M403.5 585v1M404.5 577v1M404.5 580v4M404.5 585v1M405.5 577v1M405.5 583v5M406.5 585v1M407.5 576v1M407.5 583v5M408.5 576v1M408.5 579v4M408.5 585v1M409.5 562v1M409.5 573v6M409.5 585v1M410.5 562v1M410.5 566v7M410.5 576v1M411.5 549v1M411.5 559v7M411.5 576v1M412.5 549v1M412.5 553v6M412.5 562v1M413.5 543v1M413.5 547v6M413.5 562v1M414.5 543v1M414.5 545v3M414.5 549v1M415.5 541v5M415.5 549v1M416.5 543v3M417.5 543v5M417.5 555v1M418.5 545v1M418.5 548v5M418.5 555v1M419.5 545v1M419.5 553v6M419.5 570v1M420.5 555v1M420.5 559v8M420.5 570v1M421.5 555v1M421.5 567v7M421.5 583v1M422.5 570v1M422.5 574v6M422.5 583v1M423.5 570v1M423.5 580v6M423.5 588v1M424.5 583v1M424.5 585v2M424.5 588v1M425.5 583v2M425.5 586v5M426.5 584v3M426.5 588v1M427.5 572v1M427.5 581v6M427.5 588v1M428.5 572v1M428.5 575v6M428.5 584v1M429.5 555v1M429.5 568v7M429.5 584v1M430.5 555v1M430.5 560v8M430.5 572v1M431.5 543v1M431.5 552v8M431.5 572v1M432.5 543v1M432.5 546v6M432.5 555v1M433.5 538v1M433.5 541v5M433.5 555v1M434.5 538v1M434.5 540v2M434.5 543v1M435.5 536v5M435.5 543v1M435.5 545v1M436.5 538v1M436.5 540v4M436.5 545v1M437.5 538v1M437.5 543v6M437.5 560v1M438.5 545v1M438.5 549v8M438.5 560v1M439.5 545v1M439.5 557v8M439.5 577v1M440.5 560v1M440.5 565v8M440.5 577v1M441.5 560v1M441.5 573v8M441.5 590v1M442.5 577v1M442.5 581v6M442.5 590v1M443.5 577v1M443.5 587v7M444.5 590v4M445.5 584v1M445.5 590v6M446.5 584v1M446.5 587v4M446.5 593v1M447.5 567v1M447.5 580v7M447.5 593v1M448.5 567v1M448.5 572v8M448.5 584v1M449.5 548v1M449.5 563v9M449.5 584v1M450.5 548v1M450.5 553v10M450.5 567v1M451.5 535v1M451.5 545v8M451.5 567v1M452.5 535v1M452.5 539v6M452.5 548v1M453.5 533v6M453.5 548v1M454.5 534v2M455.5 532v5M455.5 545v1M456.5 534v1M456.5 537v6M456.5 545v1M457.5 534v1M457.5 543v7M457.5 564v1M458.5 545v1M458.5 550v10M458.5 564v1M459.5 545v1M459.5 560v10M459.5 584v1M460.5 564v1M460.5 570v10M460.5 584v1M461.5 564v1M461.5 580v8M461.5 597v1M462.5 584v1M462.5 588v6M462.5 597v1M463.5 584v1M463.5 594v6M464.5 597v1M465.5 585v1M465.5 594v6M466.5 585v1M466.5 588v6M466.5 597v1M467.5 564v1M467.5 580v8M467.5 597v1M468.5 564v1M468.5 570v10M468.5 585v1M469.5 543v1M469.5 559v11M469.5 585v1M470.5 543v1M470.5 549v10M470.5 564v1M471.5 530v1M471.5 540v9M471.5 564v1M472.5 530v1M472.5 534v6M472.5 543v1M473.5 528v6M473.5 543v1M474.5 530v1M475.5 528v6M475.5 544v1M476.5 530v1M476.5 534v7M476.5 544v1M477.5 530v1M477.5 541v9M477.5 566v1M478.5 544v1M478.5 550v11M478.5 566v1M479.5 544v1M479.5 561v11M479.5 588v1M480.5 566v1M480.5 572v11M480.5 588v1M481.5 566v1M481.5 583v9M481.5 601v1M482.5 588v1M482.5 592v6M482.5 601v1M483.5 588v1M483.5 598v6M484.5 600v2M485.5 586v1M485.5 597v6M486.5 586v1M486.5 590v7M486.5 600v1M487.5 563v1M487.5 581v9M487.5 600v1M488.5 563v1M488.5 569v12M488.5 586v1M489.5 540v1M489.5 558v11M489.5 586v1M490.5 540v1M490.5 546v12M490.5 563v1M491.5 527v1M491.5 537v9M491.5 563v1M492.5 527v1M492.5 531v6M492.5 540v1M493.5 525v6M493.5 540v1M494.5 527v2M495.5 526v6M495.5 543v1M496.5 528v1M496.5 532v8M496.5 543v1M497.5 528v1M497.5 540v9M497.5 566v1M498.5 543v1M498.5 549v12M498.5 566v1M499.5 543v1M499.5 561v11M499.5 589v1M500.5 566v1M500.5 572v12M500.5 589v1M501.5 566v1M501.5 584v9M501.5 602v1M502.5 589v1M502.5 593v6M502.5 602v1M503.5 589v1M503.5 599v6M504.5 601v2M505.5 587v1M505.5 598v6M506.5 587v1M506.5 591v7M506.5 601v1M507.5 564v1M507.5 582v9M507.5 601v1M508.5 564v1M508.5 570v12M508.5 587v1M509.5 541v1M509.5 559v11M509.5 587v1M510.5 541v1M510.5 547v12M510.5 564v1M511.5 528v1M511.5 538v9M511.5 564v1M512.5 528v1M512.5 532v6M512.5 541v1M513.5 526v6M513.5 541v1M514.5 528v1M515.5 526v6M515.5 542v1M516.5 528v1M516.5 532v7M516.5 542v1M517.5 528v1M517.5 539v9M517.5 564v1M518.5 542v1M518.5 548v11M518.5 564v1M519.5 542v1M519.5 559v11M519.5 586v1M520.5 564v1M520.5 570v11M520.5 586v1M521.5 564v1M521.5 581v9M521.5 600v1M522.5 586v1M522.5 590v7M522.5 600v1M523.5 586v1M523.5 597v6M524.5 600v1M525.5 587v1M525.5 597v6M526.5 587v1M526.5 591v6M526.5 600v1M527.5 566v1M527.5 582v9M527.5 600v1M528.5 566v1M528.5 572v10M528.5 587v1M529.5 545v1M529.5 561v11M529.5 587v1M530.5 545v1M530.5 551v10M530.5 566v1M531.5 531v1M531.5 542v9M531.5 566v1M532.5 531v1M532.5 535v7M532.5 545v1M533.5 529v6M533.5 545v1M534.5 530v2M535.5 528v6M535.5 542v1M536.5 530v1M536.5 534v6M536.5 542v1M537.5 530v1M537.5 540v8M537.5 562v1M538.5 542v1M538.5 548v10M538.5 562v1M539.5 542v1M539.5 558v10M539.5 582v1M540.5 562v1M540.5 568v10M540.5 582v1M541.5 562v1M541.5 578v8M541.5 595v1M542.5 582v1M542.5 586v6M542.5 595v1M543.5 582v1M543.5 592v6M544.5 595v3M545.5 587v1M545.5 595v5M546.5 587v1M546.5 590v5M546.5 597v1M547.5 569v1M547.5 583v7M547.5 597v1M548.5 569v1M548.5 574v9M548.5 587v1M549.5 550v1M549.5 565v9M549.5 587v1M550.5 550v1M550.5 555v10M550.5 569v1M551.5 537v1M551.5 547v8M551.5 569v1M552.5 537v1M552.5 541v6M552.5 550v1M553.5 535v6M553.5 550v1M554.5 535v3M555.5 533v5M555.5 543v1M556.5 535v1M556.5 538v4M556.5 543v1M557.5 535v1M557.5 541v7M557.5 559v1M558.5 543v1M558.5 548v8M558.5 559v1M559.5 543v1M559.5 556v8M559.5 577v1M560.5 559v1M560.5 564v9M560.5 577v1M561.5 559v1M561.5 573v8M561.5 589v1M562.5 577v1M562.5 581v6M562.5 589v1M563.5 577v1M563.5 587v6M564.5 589v4M565.5 585v1M565.5 589v6M566.5 585v1M566.5 587v4M566.5 592v1M567.5 570v1M567.5 582v6M567.5 592v1M568.5 570v1M568.5 574v8M568.5 585v1M569.5 554v1M569.5 566v8M569.5 585v1M570.5 554v1M570.5 558v8M570.5 570v1M571.5 542v1M571.5 551v7M571.5 570v1M572.5 542v1M572.5 545v6M572.5 554v1M573.5 540v5M573.5 554v1M574.5 540v3M575.5 538v5M575.5 545v1M576.5 540v1M576.5 542v2M576.5 545v1M577.5 540v1M577.5 543v6M577.5 558v1M578.5 545v1M578.5 549v6M578.5 558v1M579.5 545v1M579.5 555v7M579.5 573v1M580.5 558v1M580.5 562v8M580.5 573v1M581.5 558v1M581.5 570v6M581.5 584v1M582.5 573v1M582.5 576v6M582.5 584v1M583.5 573v1M583.5 582v6M584.5 584v4M585.5 582v1M585.5 584v6M586.5 582v1M586.5 584v2M586.5 587v1M587.5 571v1M587.5 580v5M587.5 587v1M588.5 571v1M588.5 574v6M588.5 582v1M589.5 558v1M589.5 568v6M589.5 582v1M590.5 558v1M590.5 562v6M590.5 571v1M591.5 548v1M591.5 556v6M591.5 571v1M592.5 548v1M592.5 551v5M592.5 558v1M593.5 545v6M593.5 558v1M594.5 545v4M595.5 543v7M596.5 545v1M596.5 547v3M597.5 545v1M597.5 547v5M597.5 558v1M598.5 549v1M598.5 552v4M598.5 558v1M599.5 549v1M599.5 556v6M599.5 570v1M600.5 558v1M600.5 562v6M600.5 570v1M601.5 558v1M601.5 568v5M601.5 579v1M602.5 570v1M602.5 573v4M602.5 579v1M603.5 570v1M603.5 577v6M604.5 579v4M605.5 579v6M606.5 579v4M607.5 570v1M607.5 577v6M608.5 570v1M608.5 573v4M608.5 579v1M609.5 560v1M609.5 568v5M609.5 579v1M610.5 560v1M610.5 563v5M610.5 570v1M611.5 552v1M611.5 558v5M611.5 570v1M612.5 552v1M612.5 554v4M612.5 560v1M613.5 549v6M613.5 560v1M614.5 549v4M615.5 547v6M616.5 549v4M617.5 549v6M617.5 559v1M618.5 552v1M618.5 554v4M618.5 559v1M619.5 552v1M619.5 557v5M619.5 568v1M620.5 559v1M620.5 562v4M620.5 568v1M621.5 559v1M621.5 566v5M621.5 575v1M622.5 568v1M622.5 570v4M622.5 575v1M623.5 568v1M623.5 573v5M624.5 575v3M625.5 575v5M626.5 575v3M627.5 569v1M627.5 573v5M628.5 569v1M628.5 571v3M628.5 575v1M629.5 561v1M629.5 567v5M629.5 575v1M630.5 561v1M630.5 563v4M630.5 569v1M631.5 556v1M631.5 559v5M631.5 569v1M632.5 556v1M632.5 558v2M632.5 561v1M633.5 554v5M633.5 561v1M634.5 554v3M635.5 552v5M636.5 554v3M637.5 554v5M637.5 561v1M638.5 556v1M638.5 558v2M638.5 561v1M639.5 556v1M639.5 559v5M639.5 567v1M640.5 561v1M640.5 563v3M640.5 567v1M641.5 561v1M641.5 565v5M641.5 572v1M642.5 567v1M642.5 569v2M642.5 572v1M643.5 567v1M643.5 570v5M644.5 572v3M645.5 572v5M646.5 572v3M647.5 567v1M647.5 570v5M648.5 567v1M648.5 569v2M648.5 572v1M649.5 562v1M649.5 565v5M649.5 572v1M650.5 562v1M650.5 564v2M650.5 567v1M651.5 558v1M651.5 560v5M651.5 567v1M652.5 558v3M652.5 562v1M653.5 556v5M653.5 562v1M654.5 556v3M655.5 554v6M656.5 556v4M657.5 556v7M658.5 559v4M659.5 559v6M659.5 567v1M660.5 562v1M660.5 564v2M660.5 567v1M661.5 562v1M661.5 565v5M661.5 571v1M662.5 567v1M662.5 569v3M663.5 567v1M663.5 569v5M664.5 571v2M665.5 570v5M666.5 570v3M667.5 567v6M668.5 567v4M669.5 562v1M669.5 565v6M670.5 562v1M670.5 564v2M670.5 567v1M671.5 559v6M671.5 567v1M672.5 559v4M673.5 557v6M674.5 558v2M675.5 556v5M676.5 558v3M677.5 558v6M678.5 560v4M679.5 560v6M679.5 567v1M680.5 563v1M680.5 565v3M681.5 563v1M681.5 565v5M682.5 567v3M683.5 567v5M684.5 569v2M685.5 568v5M686.5 568v3M687.5 565v6M688.5 565v4M689.5 562v7M690.5 562v4M691.5 560v6M692.5 560v3M693.5 558v5M694.5 559v2M695.5 557v5M696.5 559v2M697.5 558v6M698.5 560v4M699.5 560v6M699.5 567v1M700.5 563v1M700.5 565v3M701.5 563v1M701.5 565v5M702.5 567v3M703.5 567v5M704.5 569v2M705.5 568v5M706.5 568v3M707.5 565v6M708.5 565v4M709.5 562v7M710.5 562v4M711.5 560v6M712.5 560v3M713.5 558v5M714.5 560v1M715.5 558v5M716.5 560v2M717.5 559v6M718.5 561v4M719.5 561v7M720.5 564v4M721.5 564v6M722.5 567v2M723.5 566v5M724.5 568v1M725.5 566v5M726.5 567v2M727.5 564v6M728.5 564v4M729.5 562v6M730.5 562v3M731.5 560v5M732.5 561v2M733.5 559v5M734.5 561v1M735.5 559v5M736.5 561v2M737.5 560v6M738.5 562v4M739.5 562v6M740.5 565v3M741.5 565v5M742.5 567v2M743.5 566v5M744.5 568v1M745.5 566v5M746.5 566v3M747.5 564v5M748.5 564v3M749.5 562v5M750.5 562v3M751.5 560v5M752.5 561v2M753.5 559v5M754.5 561v2M755.5 560v5M756.5 562v2M757.5 561v5M758.5 563v3M759.5 563v5M760.5 565v3M761.5 565v5M762.5 567v1M763.5 565v5M764.5 567v1M765.5 565v5M766.5 565v3M767.5 563v5M768.5 564v2M769.5 562v5M770.5 563v2M771.5 561v5M772.5 562v2M773.5 560v5M774.5 562v1M775.5 560v5M776.5 562v3M777.5 562v5M778.5 564v2M779.5 563v5M780.5 565v2M781.5 564v5M782.5 566v2M783.5 565v5M784.5 566v2M785.5 564v5M786.5 565v2M787.5 563v5M788.5 564v2M789.5 562v5M790.5 563v2M791.5 561v5M792.5 562v2M793.5 560v5M794.5 562v2M795.5 561v5M796.5 563v2M797.5 562v5M798.5 564v2M799.5 563v5M800.5 565v2M801.5 564v5M802.5 566v1M803.5 564v5M804.5 566v1M805.5 564v5M806.5 565v2M807.5 563v5M808.5 564v2M809.5 562v5M810.5 563v2M811.5 561v5M812.5 563v1M813.5 561v5M814.5 563v1M815.5 561v5M816.5 563v2M817.5 562v5M818.5 564v2M819.5 563v5M820.5 565v2M821.5 564v5M822.5 566v1M823.5 564v5M824.5 566v1M825.5 564v5M826.5 565v2M827.5 563v5M828.5 564v2M829.5 562v5M830.5 563v2M831.5 561v5M832.5 563v1M833.5 561v5M834.5 563v1M835.5 561v5M836.5 563v2M837.5 562v5M838.5 564v2M839.5 563v5M840.5 565v2M841.5 564v5M842.5 566v1M843.5 564v5M844.5 565v2M845.5 563v5M846.5 565v1M847.5 563v5M848.5 564v2M849.5 562v5M850.5 563v2M851.5 561v5M852.5 563v1M853.5 561v5M854.5 563v2M855.5 562v5M856.5 564v1M857.5 562v5M858.5 564v2M859.5 563v5M860.5 565v1M861.5 565v1"/>
<g class="crisp" fill="#000">
<rect x="61" y="75" width="800" height="1"/>
<rect x="61" y="374" width="800" height="1"/>
<rect x="61" y="75" width="1" height="300"/>
<rect x="860" y="75" width="1" height="300"/>
<rect x="161" y="366" width="1" height="8"/>
<rect x="161" y="76" width="1" height="8"/>
<rect x="261" y="366" width="1" height="8"/>
<rect x="261" y="76" width="1" height="8"/>
<rect x="361" y="366" width="1" height="8"/>
<rect x="361" y="76" width="1" height="8"/>
<rect x="461" y="366" width="1" height="8"/>
<rect x="461" y="76" width="1" height="8"/>
<rect x="560" y="366" width="1" height="8"/>
<rect x="560" y="76" width="1" height="8"/>
<rect x="660" y="366" width="1" height="8"/>
<rect x="660" y="76" width="1" height="8"/>
<rect x="760" y="366" width="1" height="8"/>
<rect x="760" y="76" width="1" height="8"/>
<rect x="61" y="415" width="800" height="1"/>
<rect x="61" y="714" width="800" height="1"/>
<rect x="61" y="415" width="1" height="300"/>
<rect x="860" y="415" width="1" height="300"/>
<rect x="161" y="706" width="1" height="8"/>
<rect x="161" y="416" width="1" height="8"/>
<rect x="261" y="706" width="1" height="8"/>
<rect x="261" y="416" width="1" height="8"/>
<rect x="361" y="706" width="1" height="8"/>
<rect x="361" y="416" width="1" height="8"/>
<rect x="461" y="706" width="1" height="8"/>
<rect x="461" y="416" width="1" height="8"/>
<rect x="560" y="706" width="1" height="8"/>
<rect x="560" y="416" width="1" height="8"/>
<rect x="660" y="706" width="1" height="8"/>
<rect x="660" y="416" width="1" height="8"/>
<rect x="760" y="706" width="1" height="8"/>
<rect x="760" y="416" width="1" height="8"/>
</g>
<text id="title" y="37.8"><tspan id="s1" x="231.3" textLength="174.5" lengthAdjust="spacing">Unbesandten</tspan><tspan id="s2" x="411.4">–</tspan><tspan id="s3" x="428.3" textLength="49" lengthAdjust="spacing">Sylt</tspan><tspan> </tspan><tspan id="s4" x="486" textLength="141" lengthAdjust="spacing">273.92372</tspan><tspan> </tspan><tspan id="s5" x="634.8" textLength="40.6" lengthAdjust="spacing">km</tspan></text>
<text id="yl1" transform="translate(38.4 225) rotate(-90)" text-anchor="middle">Amplitude</text>
<text id="yl2" transform="translate(38.4 565) rotate(-90)" text-anchor="middle">Amplitude</text>
<text id="day" x="725.8" y="106.3" text-anchor="end">Day</text>
<text id="night" x="725.7" y="446.3" text-anchor="end">Night</text>
<text id="la" class="ab" x="826.4" y="351" text-anchor="middle" textLength="37.6" lengthAdjust="spacing">(a)</text>
<text id="lb" class="ab" x="826.8" y="694.1" text-anchor="middle" textLength="37.9" lengthAdjust="spacing">(b)</text>
<text x="60.85" y="751.5" text-anchor="middle">0</text>
<text x="160.00" y="751.5" text-anchor="middle">50</text>
<text x="261.00" y="751.5" text-anchor="middle">100</text>
<text x="360.65" y="751.5" text-anchor="middle">150</text>
<text x="460.50" y="751.5" text-anchor="middle">200</text>
<text x="558.80" y="751.5" text-anchor="middle">250</text>
<text x="659.20" y="751.5" text-anchor="middle">300</text>
<text x="759.30" y="751.5" text-anchor="middle">350</text>
<text x="858.00" y="751.5" text-anchor="middle">400</text>
<text id="xl" y="780.7"><tspan x="402.2" textLength="67.3" lengthAdjust="spacing">Time</tspan><tspan> </tspan><tspan x="476.6" textLength="31.4" lengthAdjust="spacing">µs</tspan></text>
</svg>
</body>
</html>
